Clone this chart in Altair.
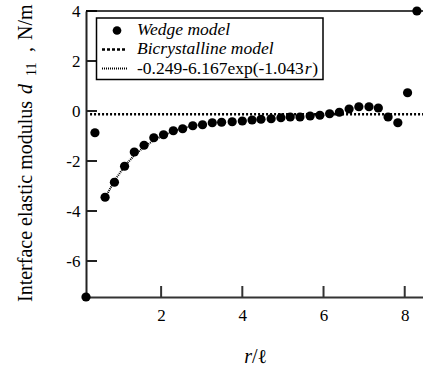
import altair as alt
import pandas as pd

# ---- data ----
r_wedge = [0.15, 0.37, 0.62, 0.85, 1.10, 1.34, 1.58, 1.82, 2.06, 2.30, 2.53, 2.78,
           3.02, 3.26, 3.49, 3.75, 4.00, 4.24, 4.46, 4.71, 4.95, 5.18, 5.42, 5.67,
           5.91, 6.15, 6.39, 6.63, 6.87, 7.12, 7.35, 7.59, 7.83, 8.07, 8.30]
d_wedge = [-7.44, -0.87, -3.45, -2.85, -2.21, -1.64, -1.37, -1.07, -0.95, -0.79,
           -0.71, -0.59, -0.55, -0.47, -0.45, -0.43, -0.40, -0.36, -0.33, -0.31,
           -0.27, -0.24, -0.24, -0.20, -0.17, -0.11, -0.05, 0.08, 0.17, 0.17,
           0.12, -0.24, -0.47, 0.73, 4.0]

r_fit = [0.62, 0.85, 1.10, 1.34, 1.58, 1.82, 2.06, 2.30, 2.53, 2.78, 3.02]
d_fit = [-3.48, -2.79, -2.21, -1.77, -1.44, -1.17, -0.97, -0.81, -0.69, -0.59, -0.51]

r_bi = [0.25, 8.45]
d_bi = [-0.13, -0.13]

x_ticks = [2, 4, 6, 8]
y_ticks = [-6, -4, -2, 0, 2, 4]

legend_labels = ["Wedge model", "Bicrystalline model", "-0.249-6.167exp(-1.043", "r", ")"]
y_title_parts = ["Interface elastic modulus", "d", "11", ",", "N/m"]
x_title_parts = ["r", "/\u2113"]

FONT = "Liberation Serif"
W, H = 337, 286
XDOM = [0.15, 8.45]
YDOM = [-7.44, 4.0]

wedge = pd.DataFrame({"r": r_wedge, "d": d_wedge})
fit = pd.DataFrame({"r": r_fit, "d": d_fit})
bi = pd.DataFrame({"r": r_bi, "d": d_bi})
xt = pd.DataFrame({"r": x_ticks})
yt = pd.DataFrame({"d": y_ticks})
one = pd.DataFrame({"a": [0]})

xs = alt.Scale(domain=XDOM, nice=False, zero=False)
ys = alt.Scale(domain=YDOM, nice=False, zero=False)

xaxis = alt.Axis(values=x_ticks, ticks=False, grid=False, title=None,
                 labelFont=FONT, labelFontSize=17, labelColor="black",
                 labelPadding=10, labelFlush=False, labelExpr="'' + datum.value",
                 domainColor="#333333", domainWidth=2)
yaxis = alt.Axis(values=y_ticks, ticks=False, grid=False, title=None,
                 labelFont=FONT, labelFontSize=17, labelColor="black",
                 labelPadding=6, labelFlush=False, labelExpr="'' + datum.value",
                 domainColor="#222222", domainWidth=2)

X = alt.X("r:Q", scale=xs, axis=xaxis)
Y = alt.Y("d:Q", scale=ys, axis=yaxis)

bi_line = alt.Chart(bi).mark_line(color="black", strokeWidth=2.5, strokeDash=[2, 2]).encode(x=X, y=Y)
fit_line = alt.Chart(fit).mark_line(color="black", strokeWidth=2, strokeDash=[1, 1]).encode(x=X, y=Y)
pts = alt.Chart(wedge).mark_circle(color="black", size=85, opacity=1).encode(x=X, y=Y)

ytick_marks = alt.Chart(yt).mark_rule(color="#222222", strokeWidth=2).encode(
    y=alt.Y("d:Q", scale=ys), x=alt.value(0), x2=alt.value(11))
xtick_marks = alt.Chart(xt).mark_rule(color="#333333", strokeWidth=2).encode(
    x=alt.X("r:Q", scale=xs), y=alt.value(H - 11), y2=alt.value(H))

top_rule = alt.Chart(one).mark_rule(color="black", strokeWidth=1.5).encode(
    x=alt.value(0), x2=alt.value(W), y=alt.value(0))

# legend
ROW1, ROW2, ROW3 = 18.5, 38.0, 57.5
box = alt.Chart(one).mark_rect(fill="white", stroke="black", strokeWidth=1.5).encode(
    x=alt.value(10.5), x2=alt.value(237), y=alt.value(7), y2=alt.value(68.5))
leg_dot = alt.Chart(one).mark_circle(color="black", size=75, opacity=1).encode(
    x=alt.value(31), y=alt.value(ROW1 + 1))
leg_bi = alt.Chart(one).mark_rule(color="black", strokeWidth=2.5, strokeDash=[3, 2]).encode(
    x=alt.value(16), x2=alt.value(41), y=alt.value(ROW2 + 0.5))
leg_fit = alt.Chart(one).mark_rule(color="black", strokeWidth=2, strokeDash=[1, 1]).encode(
    x=alt.value(16), x2=alt.value(42), y=alt.value(ROW3))

def txt(s, x, y, size=17.5, style="normal", align="left", baseline="middle", angle=0):
    return alt.Chart(one).mark_text(text=s, font=FONT, fontSize=size, fontStyle=style,
                                    align=align, baseline=baseline, angle=angle,
                                    color="black").encode(x=alt.value(x), y=alt.value(y))

leg_t1 = txt(legend_labels[0], 51, ROW1, style="italic")
leg_t2 = txt(legend_labels[1], 51, ROW2, style="italic")
leg_t3 = txt(legend_labels[2], 51, ROW3)
leg_t4 = txt(legend_labels[3], 218.8, ROW3, style="italic")
leg_t5 = txt(legend_labels[4], 226.3, ROW3)

# axis titles
yt1 = txt(y_title_parts[0], -54, 291, size=20, baseline="alphabetic", angle=270)
yt2 = txt(y_title_parts[1], -54, 83, size=20, style="italic", baseline="alphabetic", angle=270)
yt3 = txt(y_title_parts[2], -50, 65, size=14, baseline="alphabetic", angle=270)
yt4 = txt(y_title_parts[3], -54, 41, size=20, baseline="alphabetic", angle=270)
yt5 = txt(y_title_parts[4], -54, 29, size=20, baseline="alphabetic", angle=270)

xt1 = txt(x_title_parts[0], 166, 352, size=20, style="italic", align="right", baseline="alphabetic")
xt2 = txt(x_title_parts[1], 166, 352, size=20, baseline="alphabetic")

chart = alt.layer(
    bi_line, fit_line, ytick_marks, xtick_marks, top_rule, pts,
    box, leg_dot, leg_bi, leg_fit, leg_t1, leg_t2, leg_t3, leg_t4, leg_t5,
    yt1, yt2, yt3, yt4, yt5, xt1, xt2
).properties(
    width=W, height=H,
    autosize=alt.AutoSizeParams(type="none"),
    padding={"left": 86, "top": 11, "right": 0, "bottom": 72},
    background="white"
).configure_view(stroke=None)

chart.save("out.html", embed_options={"renderer": "svg", "actions": False})
